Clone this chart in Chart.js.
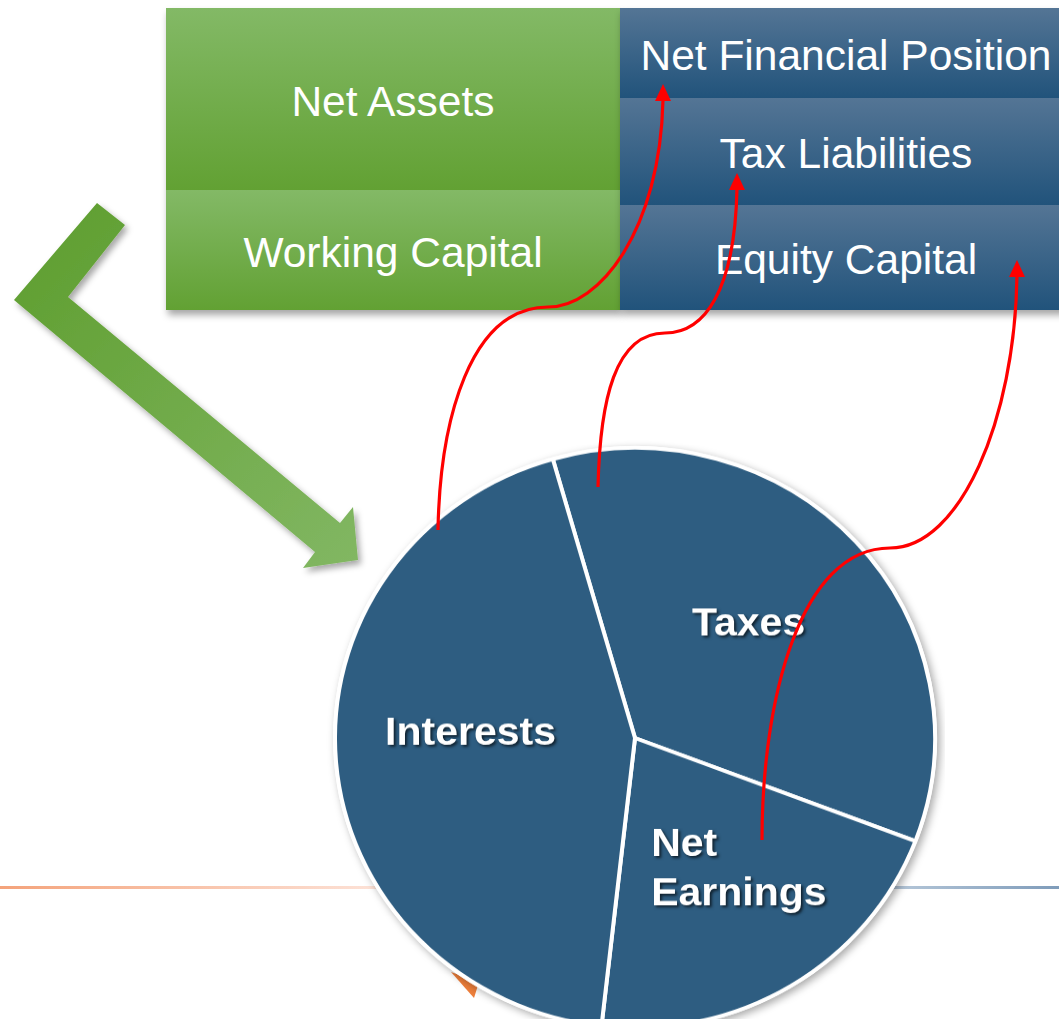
<!DOCTYPE html>
<html lang="en">
<head>
    <meta charset="UTF-8">
    <title>Net Assets vs Funding - Income Split</title>
    <script src="https://cdn.jsdelivr.net/npm/chart.js"></script>
    <style>
        body { margin: 0; width: 1059px; height: 1019px; overflow: hidden; background: #fff; position: relative; font-family: "Liberation Sans", Arial, sans-serif; }
        svg.layer { position: absolute; left: 0; top: 0; }
        .col { position: absolute; top: 8px; box-shadow: 2px 5px 7px rgba(0,0,0,0.35); }
        .cell { display: flex; align-items: center; justify-content: center; color: #fff; font-size: 42.5px; white-space: nowrap; box-sizing: border-box; padding-top: 5px; }
        .green .cell { background: linear-gradient(#83b966, #62a133); }
        .blue .cell { background: linear-gradient(#547595, #21537b); }
        #pieWrap { position: absolute; left: 325px; top: 428px; width: 620px; height: 620px; transform: scaleY(0.967); transform-origin: 50% 50%; }
    </style>
</head>
<body>
    <!-- background decorations: rules, green bent arrow -->
    <svg class="layer" width="1059" height="1019">
        <defs>
            <linearGradient id="orangeLine" x1="0" x2="1"><stop offset="0" stop-color="#f4a37b"/><stop offset="1" stop-color="#fde4da"/></linearGradient>
            <linearGradient id="blueLine" x1="0" x2="1"><stop offset="0" stop-color="#b9cadb"/><stop offset="1" stop-color="#7f9cba"/></linearGradient>
            <linearGradient id="arrowFill" x1="0" y1="0" x2="1" y2="1"><stop offset="0" stop-color="#5d9d2d"/><stop offset="1" stop-color="#82b763"/></linearGradient>
            <filter id="drop" x="-20%" y="-20%" width="140%" height="140%"><feDropShadow dx="3" dy="4" stdDeviation="3" flood-opacity="0.35"/></filter>
        </defs>
        <rect x="0" y="886" width="390" height="3" fill="url(#orangeLine)"/>
        <rect x="880" y="886" width="179" height="3" fill="url(#blueLine)"/>
        <polygon points="451,972 474,998 479,982" fill="#ee7f3b"/>
        <polygon points="97,203 125,225 68,297 340,523 353,507 358,560 303,568 315,552 14,300" fill="url(#arrowFill)" filter="url(#drop)"/>
    </svg>

    <div class="col green" style="left:166px; width:454px;">
        <div class="cell" style="height:182px;" id="a0"></div>
        <div class="cell" style="height:120px;" id="a1"></div>
    </div>
    <div class="col blue" style="left:620px; width:452px;">
        <div class="cell" style="height:90px;" id="f0"></div>
        <div class="cell" style="height:107px;" id="f1"></div>
        <div class="cell" style="height:105px;" id="f2"></div>
    </div>

    <div id="pieWrap"><canvas id="pieChart"></canvas></div>

    <!-- red connectors drawn over everything -->
    <svg class="layer" width="1059" height="1019">
        <g fill="none" stroke="#ff0000" stroke-width="3.2">
            <path d="M438,530 C440,420 470,307 548,307 C600,307 660,230 663,100"/>
            <path d="M598,487 C600,400 615,333 665,333 C705,333 735,290 737,188"/>
            <path d="M762,840 C762,700 800,548 890,548 C960,548 1015,420 1017,275"/>
        </g>
        <g fill="#ff0000">
            <polygon points="663,84 655,101 671,101"/>
            <polygon points="737,173 729,190 745,190"/>
            <polygon points="1017,260 1009,277 1025,277"/>
        </g>
    </svg>

    <script>
        // Balance sheet blocks
        const assetLabels = ["Net Assets", "Working Capital"];
        const fundingLabels = ["Net Financial Position", "Tax Liabilities", "Equity Capital"];

        // Pie: split of operating result (share of the circle, %)
        const sliceLabels = ["Taxes", ["Net", "Earnings"], "Interests"];
        const sliceValues = [35.2, 21.0, 43.8];
        const startAngle = -15.9;

        assetLabels.forEach((t, i) => document.getElementById('a' + i).textContent = t);
        fundingLabels.forEach((t, i) => document.getElementById('f' + i).textContent = t);

        // white disc with shadow under the slices
        const discShadow = {
            id: 'discShadow',
            beforeDatasetsDraw(chart) {
                const arc = chart.getDatasetMeta(0).data[0];
                if (!arc) return;
                const ctx = chart.ctx;
                ctx.save();
                ctx.shadowColor = 'rgba(0,0,0,0.35)';
                ctx.shadowBlur = 8;
                ctx.shadowOffsetX = 3;
                ctx.shadowOffsetY = 3;
                ctx.fillStyle = '#fff';
                ctx.beginPath();
                ctx.arc(arc.x, arc.y, arc.outerRadius + 2, 0, Math.PI * 2);
                ctx.fill();
                ctx.restore();
            }
        };

        // slice names inside the pie
        const sliceText = {
            id: 'sliceText',
            afterDatasetsDraw(chart, args, opts) {
                const ctx = chart.ctx;
                const meta = chart.getDatasetMeta(0);
                ctx.save();
                ctx.font = 'bold 41px "Liberation Sans", Arial, sans-serif';
                ctx.fillStyle = '#fff';
                ctx.textBaseline = 'middle';
                ctx.textAlign = 'left';
                ctx.shadowColor = 'rgba(0,0,0,0.65)';
                ctx.shadowBlur = 3;
                ctx.shadowOffsetX = 2;
                ctx.shadowOffsetY = 2;
                meta.data.forEach((arc, i) => {
                    const mid = (arc.startAngle + arc.endAngle) / 2;
                    const r = arc.outerRadius * opts.radius;
                    const off = opts.offsets[i];
                    const cx = arc.x + Math.cos(mid) * r + off[0];
                    const cy = arc.y + Math.sin(mid) * r + off[1];
                    const lines = [].concat(chart.data.labels[i]);
                    const w = Math.max(...lines.map(l => ctx.measureText(l).width));
                    lines.forEach((l, k) => {
                        const y = cy + (k - (lines.length - 1) / 2) * opts.lineHeight;
                        ctx.fillText(l, cx - w / 2 + (lines.length === 1 ? (w - ctx.measureText(l).width) / 2 : 0), y);
                    });
                });
                ctx.restore();
            }
        };

        new Chart(document.getElementById('pieChart'), {
            type: 'pie',
            data: {
                labels: sliceLabels,
                datasets: [{
                    data: sliceValues,
                    backgroundColor: '#2e5d81',
                    borderColor: '#ffffff',
                    borderWidth: 4
                }]
            },
            options: {
                responsive: true,
                maintainAspectRatio: false,
                animation: false,
                rotation: startAngle,
                layout: { padding: 8 },
                plugins: {
                    legend: { display: false },
                    tooltip: { enabled: false },
                    sliceText: { radius: 0.55, lineHeight: 51, offsets: [[-8, -6], [18, -5], [0, -18]] }
                }
            },
            plugins: [discShadow, sliceText]
        });
    </script>
</body>
</html>
